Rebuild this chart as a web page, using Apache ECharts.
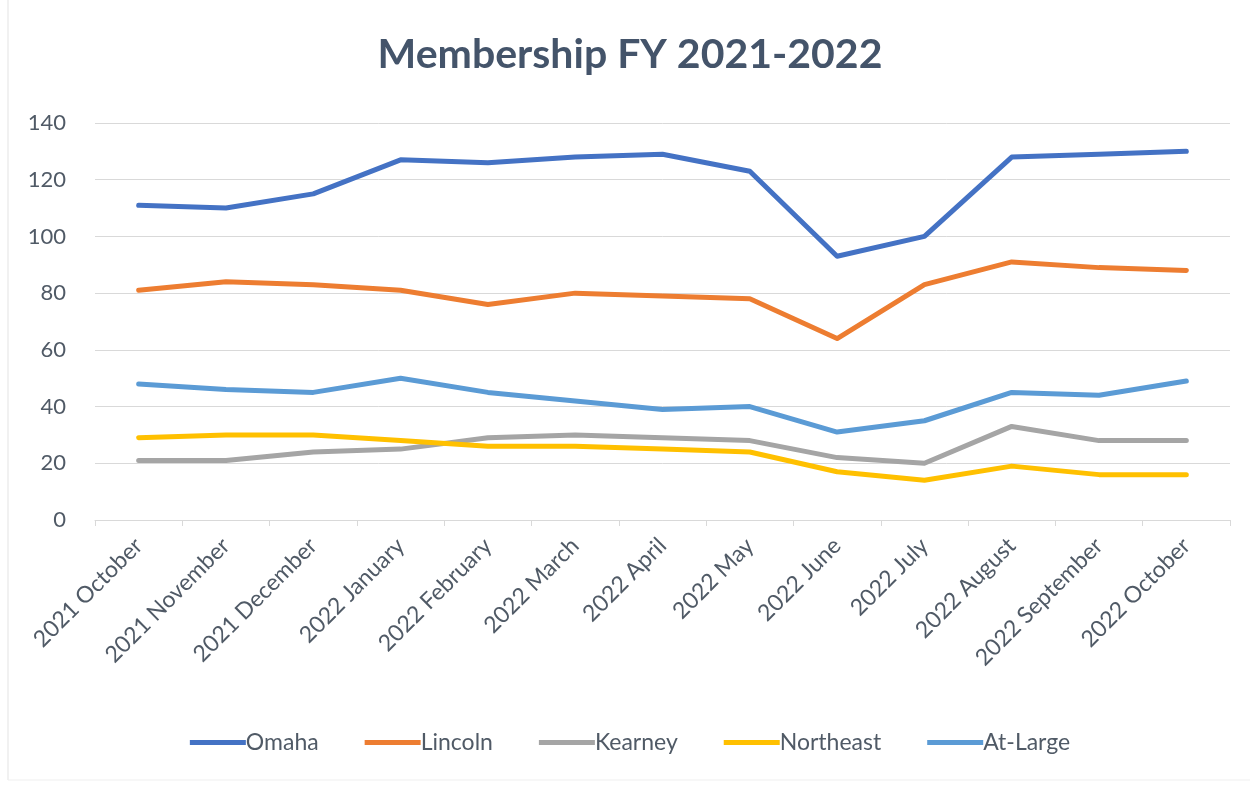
<!DOCTYPE html>
<html><head><meta charset="utf-8">
<script src="https://cdn.jsdelivr.net/npm/echarts@6/dist/echarts.min.js"></script>
<style>html,body{margin:0;padding:0;background:#fff}#c{width:1260px;height:787px}</style>
</head><body><div id="c"></div>
<script>
const categories = ["2021 October","2021 November","2021 December","2022 January","2022 February","2022 March","2022 April","2022 May","2022 June","2022 July","2022 August","2022 September","2022 October"];
const omaha     = [111,110,115,127,126,128,129,123,93,100,128,129,130];
const lincoln   = [81,84,83,81,76,80,79,78,64,83,91,89,88];
const kearney   = [21,21,24,25,29,30,29,28,22,20,33,28,28];
const northeast = [29,30,30,28,26,26,25,24,17,14,19,16,16];
const atLarge   = [48,46,45,50,45,42,39,40,31,35,45,44,49];
const yTicks = [0,20,40,60,80,100,120,140];

const names = ["Omaha","Lincoln","Kearney","Northeast","At-Large"];
const colors = ["#4472C4","#ED7D31","#A5A5A5","#FFC000","#5B9BD5"];
const data = [omaha,lincoln,kearney,northeast,atLarge];
const font = "Lato, 'Open Sans', sans-serif";
const txt = '#505A66';

const chart = echarts.init(document.getElementById('c'));
chart.setOption({
  backgroundColor:'#fff',
  animation:false,
  graphic:[{type:'line',shape:{x1:8,y1:0,x2:8,y2:780},style:{stroke:'#E3E3E3',lineWidth:1}},
           {type:'line',shape:{x1:8,y1:780,x2:1250,y2:780},style:{stroke:'#EFEFEF',lineWidth:1}}],
  title:{text:'Membership FY 2021-2022',left:'center',top:29,
    textStyle:{fontSize:41,fontWeight:'bold',color:'#44546A',fontFamily:font}},
  grid:{left:95,right:30,top:123,bottom:267,containLabel:false},
  legend:{top:726,left:'center',itemWidth:56,itemHeight:5,itemGap:46,icon:'rect',
    textStyle:{fontSize:23,color:txt,fontFamily:font,padding:[0,0,0,-5]},
    data:names},
  xAxis:{type:'category',data:categories,boundaryGap:true,
    axisLine:{lineStyle:{color:'#D9D9D9'}},
    axisTick:{show:true,length:6,lineStyle:{color:'#D9D9D9'}},
    axisLabel:{rotate:45,fontSize:23,color:txt,fontFamily:font,margin:22,interval:0}},
  yAxis:{type:'value',min:yTicks[0],max:yTicks[yTicks.length-1],interval:20,
    axisLine:{show:false},axisTick:{show:false},
    axisLabel:{fontSize:22,color:txt,fontFamily:font,margin:29},
    splitLine:{lineStyle:{color:'#D9D9D9'}}},
  series:names.map((n,i)=>({name:n,type:'line',data:data[i],showSymbol:false,symbol:'none',
    lineStyle:{width:5,color:colors[i],cap:'round',join:'round'},itemStyle:{color:colors[i]}}))
});
</script></body></html>
